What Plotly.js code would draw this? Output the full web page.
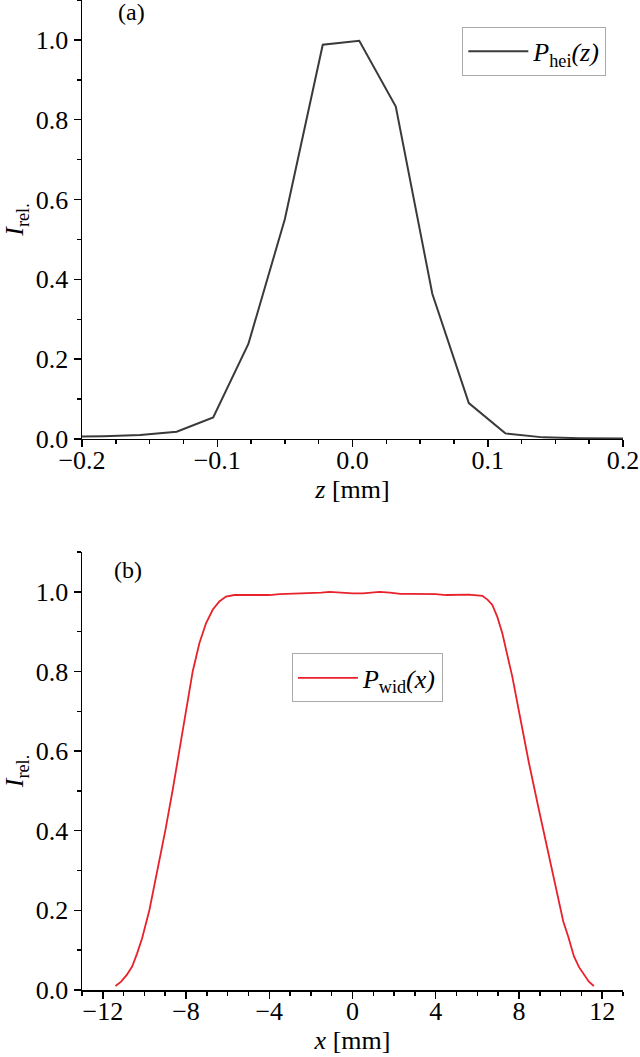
<!DOCTYPE html>
<html>
<head>
<meta charset="utf-8">
<script src="https://cdn.plot.ly/plotly-3.0.1.min.js"></script>
<style>
  html, body { margin: 0; padding: 0; background: #fff; }
  #graph { width: 640px; height: 1057px; }
</style>
</head>
<body>
<div id="graph"></div>
<script>
// panel (a): height profile
var zHei = [-0.211, -0.184, -0.157, -0.130, -0.103, -0.077, -0.050, -0.022, 0.005, 0.032, 0.059, 0.086, 0.113, 0.141, 0.168, 0.195, 0.222]
var pHei = [0.006, 0.007, 0.010, 0.018, 0.054, 0.238, 0.551, 0.988, 0.998, 0.833, 0.364, 0.090, 0.014, 0.004, 0.002, 0.001, 0.001]

// panel (b): width profile
var xWid = [-11.39, -11.12, -10.85, -10.59, -10.35, -10.11, -9.76, -9.36, -8.99, -8.64, -8.32, -8.0, -7.68, -7.36, -7.04, -6.72, -6.4, -6.08, -5.68,
            -5.2, -4.5, -4.0, -3.5, -3.0, -2.5, -2.0, -1.5, -1.1, -0.6, 0.0, 0.5, 0.9, 1.3, 1.8, 2.3, 2.8, 3.5, 4.0, 4.5, 5.0, 5.6,
            6.24, 6.5, 6.72, 6.96, 7.2, 7.44, 7.68, 8.08, 8.48, 8.96, 9.44, 9.84, 10.13, 10.37, 10.64, 10.88, 11.12, 11.36, 11.6]
var pWid = [0.010, 0.021, 0.038, 0.059, 0.092, 0.130, 0.201, 0.302, 0.402, 0.503, 0.603, 0.704, 0.800, 0.871, 0.921, 0.955, 0.976, 0.988, 0.992,
            0.992, 0.992, 0.992, 0.994, 0.995, 0.995, 0.996, 0.998, 1.0, 0.998, 0.996, 0.996, 0.998, 1.0, 0.998, 0.995, 0.995, 0.995, 0.994, 0.992, 0.992, 0.993,
            0.990, 0.980, 0.967, 0.937, 0.896, 0.845, 0.787, 0.678, 0.570, 0.452, 0.335, 0.235, 0.172, 0.134, 0.085, 0.058, 0.038, 0.021, 0.010]

var yTicks = [0, 0.2, 0.4, 0.6, 0.8, 1.0]
var zTicks = [-0.2, -0.1, 0, 0.1, 0.2]
var xTicks = [-12, -8, -4, 0, 4, 8, 12]

var serif = '"Liberation Serif", serif'

function axisBase() {
    return {
        showline: true, linecolor: '#000', linewidth: 1.5,
        ticks: 'outside', ticklen: 7, tickwidth: 1.5, tickcolor: '#000',
        showgrid: false, zeroline: false,
        tickfont: {family: serif, size: 26, color: '#000'},
        title: {font: {family: serif, size: 26, color: '#000'}}
    }
}

var xa = axisBase()
xa.range = [-0.2, 0.2]
xa.tickvals = zTicks
xa.tickformat = '.1f'
xa.ticklabelstandoff = -10
xa.minor = {dtick: 0.025, tick0: -0.2, ticks: 'outside', ticklen: 4, tickwidth: 1.5, tickcolor: '#000'}
xa.title.text = '<i>z</i> [mm]'
xa.title.standoff = 0
xa.anchor = 'y'

var ya = axisBase()
ya.range = [0, 1.1]
ya.tickvals = yTicks
ya.tickformat = '.1f'
ya.minor = {dtick: 0.1, tick0: 0, ticks: 'outside', ticklen: 4, tickwidth: 1.5, tickcolor: '#000'}
ya.title.text = '<i>I</i><sub>rel.</sub>'
ya.title.standoff = 4
ya.domain = [0.5566, 1]
ya.anchor = 'x'

var xa2 = axisBase()
xa2.range = [-13, 13]
xa2.tickvals = xTicks
xa2.ticklabelstandoff = -10
xa2.minor = {dtick: 1, tick0: -13, ticks: 'outside', ticklen: 4, tickwidth: 1.5, tickcolor: '#000'}
xa2.title.text = '<i>x</i> [mm]'
xa2.title.standoff = 0
xa2.anchor = 'y2'

var ya2 = axisBase()
ya2.range = [0, 1.1]
ya2.tickvals = yTicks
ya2.tickformat = '.1f'
ya2.minor = {dtick: 0.1, tick0: 0, ticks: 'outside', ticklen: 4, tickwidth: 1.5, tickcolor: '#000'}
ya2.title.text = '<i>I</i><sub>rel.</sub>'
ya2.title.standoff = 4
ya2.domain = [0, 0.4424]
ya2.anchor = 'x2'

var data = [
    {x: zHei, y: pHei, xaxis: 'x', yaxis: 'y', mode: 'lines', type: 'scatter',
     name: '<i>P</i><sub>hei</sub><i>(z)</i>', line: {color: '#3a3a3a', width: 2}, legend: 'legend'},
    {x: xWid, y: pWid, xaxis: 'x2', yaxis: 'y2', mode: 'lines', type: 'scatter',
     name: '<i>P</i><sub>wid</sub><i>(x)</i>', line: {color: '#e8212b', width: 1.8}, legend: 'legend2'}
]

var legendStyle = function(x, y) {
    return {x: x, y: y, xanchor: 'left', yanchor: 'top', xref: 'paper', yref: 'paper',
            bgcolor: '#fff', bordercolor: '#aaa', borderwidth: 1, itemwidth: 60,
            font: {family: serif, size: 26, color: '#000'}}
}

var layout = {
    width: 640, height: 1057,
    margin: {l: 82, r: 16.5, t: 0, b: 67},
    paper_bgcolor: '#fff', plot_bgcolor: '#fff',
    font: {family: serif, color: '#000'},
    xaxis: xa, yaxis: ya, xaxis2: xa2, yaxis2: ya2,
    legend: legendStyle(0.703, 0.973),
    legend2: legendStyle(0.388, 0.340),
    annotations: [
        {text: '(a)', xref: 'paper', yref: 'paper', x: 0.0924, y: 0.988, xanchor: 'center', yanchor: 'middle',
         showarrow: false, font: {family: serif, size: 24, color: '#000'}},
        {text: '(b)', xref: 'paper', yref: 'paper', x: 0.085, y: 0.4242, xanchor: 'center', yanchor: 'middle',
         showarrow: false, font: {family: serif, size: 24, color: '#000'}}
    ],
    showlegend: true
}

Plotly.newPlot('graph', data, layout, {displayModeBar: false, staticPlot: true})
</script>
</body>
</html>
